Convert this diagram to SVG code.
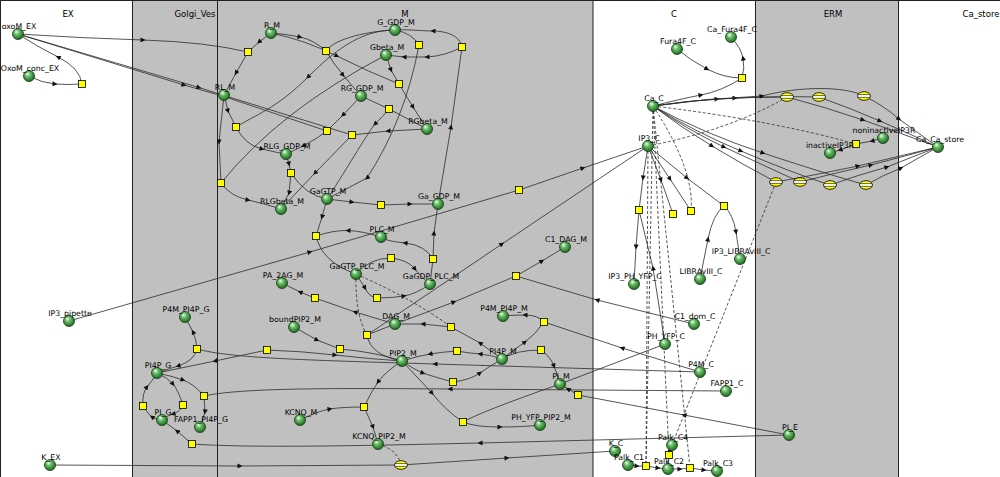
<svg xmlns="http://www.w3.org/2000/svg" width="1000" height="477" viewBox="0 0 1000 477">
<defs>
<style>
.t{font-family:"DejaVu Sans",sans-serif;font-size:7.8px;text-anchor:middle;fill:#000}
.cl{font-family:"DejaVu Sans",sans-serif;font-size:8.5px;text-anchor:middle;fill:#000}
.s{fill:url(#gs);stroke:#163816;stroke-width:0.8}
.r{fill:#ffff00;stroke:#000;stroke-width:0.8}
.e{fill:none;stroke:#2b2b2b;stroke-width:0.8;marker-mid:url(#a)}
.n{fill:none;stroke:#2b2b2b;stroke-width:0.8}
.d{fill:none;stroke:#2b2b2b;stroke-width:0.8;stroke-dasharray:3 2}
.sep{stroke:#222;stroke-width:1}
</style>
<radialGradient id="gs" cx="0.45" cy="0.4" r="0.6" fx="0.35" fy="0.3">
<stop offset="0" stop-color="#eeffee"/>
<stop offset="0.4" stop-color="#66bb66"/>
<stop offset="1" stop-color="#1d681d"/>
</radialGradient>
<marker id="a" viewBox="0 0 10 10" refX="5" refY="5" markerWidth="6" markerHeight="5" orient="auto" markerUnits="userSpaceOnUse">
<path d="M0,0 L10,5 L0,10 z" fill="#111"/>
</marker>
<clipPath id="ec"><ellipse cx="0" cy="0" rx="6.5" ry="4.3"/></clipPath>
<g id="tr">
<ellipse rx="6.5" ry="4.3" fill="#ffff00"/>
<g clip-path="url(#ec)">
<rect x="-7" y="-1.4" width="14" height="2.8" fill="#fff"/>
<line x1="-7" y1="-1.4" x2="7" y2="-1.4" stroke="#000" stroke-width="0.6"/>
<line x1="-7" y1="1.4" x2="7" y2="1.4" stroke="#000" stroke-width="0.6"/>
</g>
<ellipse rx="6.5" ry="4.3" fill="none" stroke="#000" stroke-width="0.8"/>
</g>
</defs>

<g id="compartments">
<rect x="0" y="0" width="1000" height="477" fill="#fff"/>
<rect x="132.5" y="0" width="460.5" height="477" fill="#c0c0c0"/>
<rect x="755.5" y="0" width="143" height="477" fill="#c0c0c0"/>
<line class="sep" x1="0" y1="0.5" x2="1000" y2="0.5"/>
<line class="sep" x1="0.5" y1="0" x2="0.5" y2="477"/>
<line class="sep" x1="132.5" y1="0" x2="132.5" y2="477"/>
<line class="sep" x1="217.5" y1="0" x2="217.5" y2="477"/>
<line class="sep" x1="593" y1="0" x2="593" y2="477"/>
<line class="sep" x1="755.5" y1="0" x2="755.5" y2="477"/>
<line class="sep" x1="898.5" y1="0" x2="898.5" y2="477"/>
<text class="cl" x="68" y="17">EX</text>
<text class="cl" x="195" y="17">Golgi_Ves</text>
<text class="cl" x="405" y="17">M</text>
<text class="cl" x="674" y="17">C</text>
<text class="cl" x="833" y="17">ERM</text>
<text class="cl" x="981" y="17">Ca_store</text>
</g>

<g id="connectors">
<path class="e" d="M29,76 Q42,83 55,84 T82,84"/>
<path class="e" d="M82,84 Q80,68 58,57 T18,34"/>
<path class="e" d="M18,34 Q80,38 143,40 T248,52"/>
<path class="e" d="M18,34 L184,85 L224,96.5 L327,131"/>
<path class="e" d="M18,34 L199,87.5 L224,95.5 L352,135"/>
<path class="e" d="M271,33 L259,42 L248,52"/>
<path class="e" d="M248,52 L236,73 L224,95"/>
<path class="e" d="M224,95 L228,111 L236,127"/>
<path class="e" d="M395,30 C365,30 340,45 308,77 S255,115 236,127"/>
<path class="e" d="M236,127 Q245,145 262,149 T286,154"/>
<path class="e" d="M271,33 Q286,34 300,37 T326,51"/>
<path class="e" d="M271,33 Q305,40 337,56 T399,84"/>
<path class="n" d="M395,30 C370,31 335,38 326,51"/>
<path class="e" d="M326,51 Q333,63 343,75 T361,96"/>
<path class="e" d="M386,55 L391,70 L399,84"/>
<path class="e" d="M399,84 L413,107 L427,129"/>
<path class="n" d="M361,96 L389,109 L427,129"/>
<path class="e" d="M389,109 C385,114 380,119 375,124 S340,180 327,199"/>
<path class="n" d="M395,30 Q412,33 419,45"/>
<path class="e" d="M419,45 Q405,120 367,178 L327,199"/>
<path class="e" d="M438,204 L451,127 L462,47"/>
<path class="e" d="M462,47 C460,35 445,31 433,31 S405,29 395,30"/>
<path class="e" d="M462,47 Q445,56 427,57 L404,57 Q395,56 386,55"/>
<path class="e" d="M361,96 L343,115 L327,131"/>
<path class="e" d="M327,131 Q315,140 303,146 T286,154"/>
<path class="e" d="M427,129 L388,131 L352,135"/>
<path class="e" d="M352,135 L315,173 L281,209"/>
<path class="e" d="M286,154 L289,164 L291,173"/>
<path class="e" d="M291,173 L289,193 L281,209"/>
<path class="n" d="M291,173 Q305,195 327,199"/>
<path class="e" d="M224,95 L219,142 L221,183"/>
<path class="n" d="M386,55 Q280,110 221,183"/>
<path class="e" d="M221,183 Q230,196 248,200 T281,209"/>
<path class="e" d="M327,199 L352,202 L381,205"/>
<path class="e" d="M381,205 L410,204 L438,204"/>
<path class="e" d="M327,199 L322,217 L316,236"/>
<path class="e" d="M381,237 Q362,231 348,230.5 T316,236"/>
<path class="n" d="M316,236 Q322,262 356,274"/>
<path class="n" d="M356,274 Q370,258 391,258"/>
<path class="e" d="M391,258 Q408,260 415,269 T430,284"/>
<path class="e" d="M356,274 L365,288 Q369,297 377,298"/>
<path class="e" d="M377,298 Q392,298 404,296 T430,284"/>
<path class="n" d="M430,284 L433,259"/>
<path class="e" d="M433,259 L434,233 L438,204"/>
<path class="e" d="M433,259 Q425,245 405,243 T381,237"/>
<path class="e" d="M69,321 L310,252 L519,190"/>
<path class="e" d="M519,190 L583,168 L648,146"/>
<path class="e" d="M367,335 L502,244 L648,146"/>
<path class="n" d="M402,361 Q370,355 367,335"/>
<path class="n" d="M367,335 L395,324"/>
<path class="d" d="M356,274 Q355,315 367,335"/>
<path class="d" d="M356,274 Q415,300 451,327"/>
<path class="e" d="M502,359 L480,343 L451,327"/>
<path class="e" d="M451,327 L423,324 L395,324"/>
<path class="e" d="M395,324 L454,302 L516,276"/>
<path class="e" d="M516,276 L542,261 L565,247"/>
<path class="e" d="M694,324 L597,300 L516,276"/>
<path class="e" d="M395,324 L355,312 L315,298"/>
<path class="e" d="M315,298 L300,292 L282,283"/>
<path class="e" d="M294,327 L317,340 L340,349"/>
<path class="n" d="M340,349 Q375,352 402,361"/>
<path class="e" d="M267,350 Q300,351 335,355 T402,361"/>
<path class="e" d="M267,350 L215,361 L157,373"/>
<path class="e" d="M197,349 Q194,361 178,366 T157,373"/>
<path class="e" d="M197,349 Q196,338 193,332 T185,317"/>
<path class="e" d="M700,372 L435,364 C300,360 230,358 197,349"/>
<path class="e" d="M157,373 Q172,376 183,380 T204,396"/>
<path class="e" d="M204,396 L205,412 L200,427"/>
<path class="e" d="M726,391 L450,389 C330,388 240,388 204,396"/>
<path class="e" d="M157,373 Q168,378 173,384 T183,405"/>
<path class="e" d="M183,405 Q180,412 173,414 T162,420"/>
<path class="e" d="M162,420 Q155,419 152,417 T143,406"/>
<path class="e" d="M143,406 Q142,393 147,387 T157,373"/>
<path class="e" d="M789,435 L480,443 C350,446 250,448 192,444"/>
<path class="e" d="M192,444 L177,431 L162,420"/>
<path class="e" d="M50,465 L240,466 L401,465"/>
<path class="e" d="M401,465 L507,458 L615,451"/>
<path class="d" d="M378,444 Q398,450 401,465"/>
<path class="e" d="M300,420 Q318,411 330,409 T364,407"/>
<path class="e" d="M402,361 Q385,372 378,382 T364,407"/>
<path class="e" d="M364,407 L373,427 L378,444"/>
<path class="e" d="M402,361 L432,393 Q445,410 463,422"/>
<path class="e" d="M463,422 Q475,427 500,427 T540,425"/>
<path class="n" d="M665,344 L560,384 Q480,412 463,422"/>
<path class="e" d="M402,361 Q415,370 423,373 T453,382"/>
<path class="e" d="M453,382 Q470,380 480,373 T502,359"/>
<path class="e" d="M502,359 Q492,355 480,354 T457,351"/>
<path class="e" d="M457,351 Q442,352 430,354 T402,361"/>
<path class="e" d="M502,359 Q515,349 525,342 T544,322"/>
<path class="e" d="M544,322 Q538,315 525,315 T503,316"/>
<path class="e" d="M700,372 L622,348 L544,322"/>
<path class="n" d="M502,359 Q515,350 541,350"/>
<path class="e" d="M541,350 Q550,356 554,366 T560,384"/>
<path class="e" d="M789,435 L684,415 L578,395"/>
<path class="e" d="M578,395 L568,389 L560,384"/>
<path class="e" d="M677,49 Q690,60 707,69 T742,78"/>
<path class="e" d="M742,78 Q745,68 743,58 T731,37"/>
<path class="e" d="M653,106 Q680,99 701,95 T742,78"/>
<path class="e" d="M653,106 Q685,101 717,99 Q752,97 787,97"/>
<path class="e" d="M653,106 Q693,100 735,98 Q780,96 819,97"/>
<path class="e" d="M653,106 Q708,98 762,96 C800,86 845,86 864,96"/>
<path class="e" d="M787,97 Q825,107 863,120 Q900,133 938,147"/>
<path class="e" d="M819,97 Q850,108 880,121 Q910,134 938,147"/>
<path class="e" d="M864,96 Q883,105 899,119 Q918,133 938,147"/>
<path class="e" d="M653,106 Q682,128 712,146 Q745,166 776,182"/>
<path class="e" d="M653,106 Q688,130 724,147 Q765,166 800,182"/>
<path class="e" d="M653,106 Q695,132 741,151 Q790,172 830,185"/>
<path class="e" d="M653,106 Q705,134 763,153 Q820,172 866,185"/>
<path class="e" d="M776,182 Q815,175 858,166 Q900,156 938,147"/>
<path class="e" d="M800,182 Q835,173 871,165 Q905,156 938,147"/>
<path class="e" d="M830,185 Q858,175 887,167 Q912,157 938,147"/>
<path class="e" d="M866,185 Q883,175 901,168 Q920,157 938,147"/>
<path class="d" d="M648,146 Q730,130 787,97"/>
<path class="d" d="M776,182 L672,445"/>
<path class="d" d="M653,106 Q770,120 856,144"/>
<path class="e" d="M883,138 L872,141 L856,144"/>
<path class="e" d="M856,144 L840,150 L830,153"/>
<path class="e" d="M648,146 L643,178 L639,210"/>
<path class="e" d="M648,146 L661,180 L673,214"/>
<path class="e" d="M648,146 L670,179 L691,211"/>
<path class="e" d="M648,146 L687,178 L724,206"/>
<path class="d" d="M653,106 Q695,170 691,211"/>
<path class="e" d="M639,210 L636,247 L634,284"/>
<path class="e" d="M665,344 L653,268 L639,210"/>
<path class="e" d="M700,279 L708,239 Q713,214 724,206"/>
<path class="e" d="M724,206 Q733,214 736,232 L740,259"/>
<path class="d" d="M653,106 L646,466"/>
<path class="d" d="M648,146 L646,466"/>
<path class="d" d="M653,106 L669,455"/>
<path class="d" d="M653,106 L690,468"/>
<path class="e" d="M628,465 L637,466 L646,466"/>
<path class="e" d="M646,466 L658,468 L668,469"/>
<path class="e" d="M668,469 L680,469 L690,468"/>
<path class="e" d="M690,468 L704,470 L717,471"/>
<path class="n" d="M668,469 L669,455"/>
<path class="e" d="M669,455 L670,450 L672,445"/>
</g>

<g id="reactions">
<g id="rx_ex"><rect class="r" x="78.5" y="80.5" width="7" height="7"/></g>
<g id="rx_g1"><rect class="r" x="193.5" y="345.5" width="7" height="7"/></g>
<g id="rx_g2"><rect class="r" x="139.5" y="402.5" width="7" height="7"/></g>
<g id="rx_g3"><rect class="r" x="179.5" y="401.5" width="7" height="7"/></g>
<g id="rx_g4"><rect class="r" x="200.5" y="392.5" width="7" height="7"/></g>
<g id="rx_g5"><rect class="r" x="188.5" y="440.5" width="7" height="7"/></g>
<g id="r1"><rect class="r" x="244.5" y="48.5" width="7" height="7"/></g>
<g id="r2"><rect class="r" x="322.5" y="47.5" width="7" height="7"/></g>
<g id="r3"><rect class="r" x="415.5" y="41.5" width="7" height="7"/></g>
<g id="r4"><rect class="r" x="458.5" y="43.5" width="7" height="7"/></g>
<g id="r5"><rect class="r" x="395.5" y="80.5" width="7" height="7"/></g>
<g id="r6"><rect class="r" x="385.5" y="105.5" width="7" height="7"/></g>
<g id="r7"><rect class="r" x="232.5" y="123.5" width="7" height="7"/></g>
<g id="r8"><rect class="r" x="323.5" y="127.5" width="7" height="7"/></g>
<g id="r9"><rect class="r" x="348.5" y="131.5" width="7" height="7"/></g>
<g id="r10"><rect class="r" x="217.5" y="179.5" width="7" height="7"/></g>
<g id="r11"><rect class="r" x="287.5" y="169.5" width="7" height="7"/></g>
<g id="r12"><rect class="r" x="377.5" y="201.5" width="7" height="7"/></g>
<g id="r13"><rect class="r" x="312.5" y="232.5" width="7" height="7"/></g>
<g id="r14"><rect class="r" x="515.5" y="186.5" width="7" height="7"/></g>
<g id="r15"><rect class="r" x="429.5" y="255.5" width="7" height="7"/></g>
<g id="r16"><rect class="r" x="387.5" y="254.5" width="7" height="7"/></g>
<g id="r17"><rect class="r" x="373.5" y="294.5" width="7" height="7"/></g>
<g id="r18"><rect class="r" x="512.5" y="272.5" width="7" height="7"/></g>
<g id="r19"><rect class="r" x="311.5" y="294.5" width="7" height="7"/></g>
<g id="r20"><rect class="r" x="447.5" y="323.5" width="7" height="7"/></g>
<g id="r21"><rect class="r" x="363.5" y="331.5" width="7" height="7"/></g>
<g id="r22"><rect class="r" x="540.5" y="318.5" width="7" height="7"/></g>
<g id="r23"><rect class="r" x="263.5" y="346.5" width="7" height="7"/></g>
<g id="r24"><rect class="r" x="336.5" y="345.5" width="7" height="7"/></g>
<g id="r25"><rect class="r" x="453.5" y="347.5" width="7" height="7"/></g>
<g id="r26"><rect class="r" x="537.5" y="346.5" width="7" height="7"/></g>
<g id="r27"><rect class="r" x="449.5" y="378.5" width="7" height="7"/></g>
<g id="r28"><rect class="r" x="360.5" y="403.5" width="7" height="7"/></g>
<g id="r29"><rect class="r" x="459.5" y="418.5" width="7" height="7"/></g>
<g id="r30"><rect class="r" x="574.5" y="391.5" width="7" height="7"/></g>
<g id="c1"><rect class="r" x="738.5" y="74.5" width="7" height="7"/></g>
<g id="c2"><rect class="r" x="635.5" y="206.5" width="7" height="7"/></g>
<g id="c3"><rect class="r" x="669.5" y="210.5" width="7" height="7"/></g>
<g id="c4"><rect class="r" x="687.5" y="207.5" width="7" height="7"/></g>
<g id="c5"><rect class="r" x="720.5" y="202.5" width="7" height="7"/></g>
<g id="c6"><rect class="r" x="642.5" y="462.5" width="7" height="7"/></g>
<g id="c7"><rect class="r" x="665.5" y="451.5" width="7" height="7"/></g>
<g id="c8"><rect class="r" x="686.5" y="464.5" width="7" height="7"/></g>
<g id="e_sq"><rect class="r" x="852.5" y="140.5" width="7" height="7"/></g>
<g id="t1"><use href="#tr" x="787" y="97"/></g>
<g id="t2"><use href="#tr" x="819" y="97"/></g>
<g id="t3"><use href="#tr" x="864" y="96"/></g>
<g id="t4"><use href="#tr" x="776" y="182"/></g>
<g id="t5"><use href="#tr" x="800" y="182"/></g>
<g id="t6"><use href="#tr" x="830" y="185"/></g>
<g id="t7"><use href="#tr" x="866" y="185"/></g>
<g id="tk"><use href="#tr" x="401" y="465"/></g>
</g>

<g id="species">
<g id="oxoM_EX"><circle class="s" cx="18" cy="34" r="5.5"/><text class="t" x="19" y="28.5">oxoM_EX</text></g>
<g id="OxoM_conc_EX"><circle class="s" cx="29" cy="76" r="5.5"/><text class="t" x="30" y="70.5">OxoM_conc_EX</text></g>
<g id="IP3_pipette"><circle class="s" cx="69" cy="321" r="5.5"/><text class="t" x="70" y="315.5">IP3_pipette</text></g>
<g id="K_EX"><circle class="s" cx="50" cy="465" r="5.5"/><text class="t" x="51" y="459.5">K_EX</text></g>
<g id="P4M_PI4P_G"><circle class="s" cx="185" cy="317" r="5.5"/><text class="t" x="186" y="311.5">P4M_PI4P_G</text></g>
<g id="PI4P_G"><circle class="s" cx="157" cy="373" r="5.5"/><text class="t" x="158" y="367.5">PI4P_G</text></g>
<g id="PI_G"><circle class="s" cx="162" cy="420" r="5.5"/><text class="t" x="163" y="414.5">PI_G</text></g>
<g id="FAPP1_PI4P_G"><circle class="s" cx="200" cy="427" r="5.5"/><text class="t" x="201" y="421.5">FAPP1_PI4P_G</text></g>
<g id="R_M"><circle class="s" cx="271" cy="33" r="5.5"/><text class="t" x="272" y="27.5">R_M</text></g>
<g id="G_GDP_M"><circle class="s" cx="395" cy="30" r="5.5"/><text class="t" x="396" y="24.5">G_GDP_M</text></g>
<g id="Gbeta_M"><circle class="s" cx="386" cy="55" r="5.5"/><text class="t" x="387" y="49.5">Gbeta_M</text></g>
<g id="RL_M"><circle class="s" cx="224" cy="95" r="5.5"/><text class="t" x="225" y="89.5">RL_M</text></g>
<g id="RG_GDP_M"><circle class="s" cx="361" cy="96" r="5.5"/><text class="t" x="362" y="90.5">RG_GDP_M</text></g>
<g id="RGbeta_M"><circle class="s" cx="427" cy="129" r="5.5"/><text class="t" x="428" y="123.5">RGbeta_M</text></g>
<g id="RLG_GDP_M"><circle class="s" cx="286" cy="154" r="5.5"/><text class="t" x="287" y="148.5">RLG_GDP_M</text></g>
<g id="RLGbeta_M"><circle class="s" cx="281" cy="209" r="5.5"/><text class="t" x="282" y="203.5">RLGbeta_M</text></g>
<g id="GaGTP_M"><circle class="s" cx="327" cy="199" r="5.5"/><text class="t" x="328" y="193.5">GaGTP_M</text></g>
<g id="Ga_GDP_M"><circle class="s" cx="438" cy="204" r="5.5"/><text class="t" x="439" y="198.5">Ga_GDP_M</text></g>
<g id="PLC_M"><circle class="s" cx="381" cy="237" r="5.5"/><text class="t" x="382" y="231.5">PLC_M</text></g>
<g id="GaGTP_PLC_M"><circle class="s" cx="356" cy="274" r="5.5"/><text class="t" x="357" y="268.5">GaGTP_PLC_M</text></g>
<g id="GaGDP_PLC_M"><circle class="s" cx="430" cy="284" r="5.5"/><text class="t" x="431" y="278.5">GaGDP_PLC_M</text></g>
<g id="C1_DAG_M"><circle class="s" cx="565" cy="247" r="5.5"/><text class="t" x="566" y="241.5">C1_DAG_M</text></g>
<g id="PA_2AG_M"><circle class="s" cx="282" cy="283" r="5.5"/><text class="t" x="283" y="277.5">PA_2AG_M</text></g>
<g id="DAG_M"><circle class="s" cx="395" cy="324" r="5.5"/><text class="t" x="396" y="318.5">DAG_M</text></g>
<g id="boundPIP2_M"><circle class="s" cx="294" cy="327" r="5.5"/><text class="t" x="295" y="321.5">boundPIP2_M</text></g>
<g id="P4M_PI4P_M"><circle class="s" cx="503" cy="316" r="5.5"/><text class="t" x="504" y="310.5">P4M_PI4P_M</text></g>
<g id="PI4P_M"><circle class="s" cx="502" cy="359" r="5.5"/><text class="t" x="503" y="353.5">PI4P_M</text></g>
<g id="PIP2_M"><circle class="s" cx="402" cy="361" r="5.5"/><text class="t" x="403" y="355.5">PIP2_M</text></g>
<g id="PI_M"><circle class="s" cx="560" cy="384" r="5.5"/><text class="t" x="561" y="378.5">PI_M</text></g>
<g id="PH_YFP_PIP2_M"><circle class="s" cx="540" cy="425" r="5.5"/><text class="t" x="541" y="419.5">PH_YFP_PIP2_M</text></g>
<g id="KCNQ_M"><circle class="s" cx="300" cy="420" r="5.5"/><text class="t" x="301" y="414.5">KCNQ_M</text></g>
<g id="KCNQ_PIP2_M"><circle class="s" cx="378" cy="444" r="5.5"/><text class="t" x="379" y="438.5">KCNQ_PIP2_M</text></g>
<g id="Fura4F_C"><circle class="s" cx="677" cy="49" r="5.5"/><text class="t" x="678" y="43.5">Fura4F_C</text></g>
<g id="Ca_Fura4F_C"><circle class="s" cx="731" cy="37" r="5.5"/><text class="t" x="732" y="31.5">Ca_Fura4F_C</text></g>
<g id="Ca_C"><circle class="s" cx="653" cy="106" r="5.5"/><text class="t" x="654" y="100.5">Ca_C</text></g>
<g id="IP3_C"><circle class="s" cx="648" cy="146" r="5.5"/><text class="t" x="649" y="140.5">IP3_C</text></g>
<g id="IP3_PH_YFP_C"><circle class="s" cx="634" cy="284" r="5.5"/><text class="t" x="635" y="278.5">IP3_PH_YFP_C</text></g>
<g id="LIBRAvIII_C"><circle class="s" cx="700" cy="279" r="5.5"/><text class="t" x="701" y="273.5">LIBRAvIII_C</text></g>
<g id="IP3_LIBRAvIII_C"><circle class="s" cx="740" cy="259" r="5.5"/><text class="t" x="741" y="253.5">IP3_LIBRAvIII_C</text></g>
<g id="C1_dom_C"><circle class="s" cx="694" cy="324" r="5.5"/><text class="t" x="695" y="318.5">C1_dom_C</text></g>
<g id="PH_YFP_C"><circle class="s" cx="665" cy="344" r="5.5"/><text class="t" x="666" y="338.5">PH_YFP_C</text></g>
<g id="P4M_C"><circle class="s" cx="700" cy="372" r="5.5"/><text class="t" x="701" y="366.5">P4M_C</text></g>
<g id="FAPP1_C"><circle class="s" cx="726" cy="391" r="5.5"/><text class="t" x="727" y="385.5">FAPP1_C</text></g>
<g id="PI_E"><circle class="s" cx="789" cy="435" r="5.5"/><text class="t" x="790" y="429.5">PI_E</text></g>
<g id="Palk_C4"><circle class="s" cx="672" cy="445" r="5.5"/><text class="t" x="673" y="439.5">Palk_C4</text></g>
<g id="K_C"><circle class="s" cx="615" cy="451" r="5.5"/><text class="t" x="616" y="445.5">K_C</text></g>
<g id="Palk_C1"><circle class="s" cx="628" cy="465" r="5.5"/><text class="t" x="629" y="459.5">Palk_C1</text></g>
<g id="Palk_C2"><circle class="s" cx="668" cy="469" r="5.5"/><text class="t" x="669" y="463.5">Palk_C2</text></g>
<g id="Palk_C3"><circle class="s" cx="717" cy="471" r="5.5"/><text class="t" x="718" y="465.5">Palk_C3</text></g>
<g id="noninactiveIP3R"><circle class="s" cx="883" cy="138" r="5.5"/><text class="t" x="884" y="132.5">noninactiveIP3R</text></g>
<g id="inactiveIP3R"><circle class="s" cx="830" cy="153" r="5.5"/><text class="t" x="830" y="147.5">inactiveIP3R</text></g>
<g id="Ca_Ca_store"><circle class="s" cx="938" cy="147" r="5.5"/><text class="t" x="940" y="141.5">Ca_Ca_store</text></g>
</g>
</svg>
